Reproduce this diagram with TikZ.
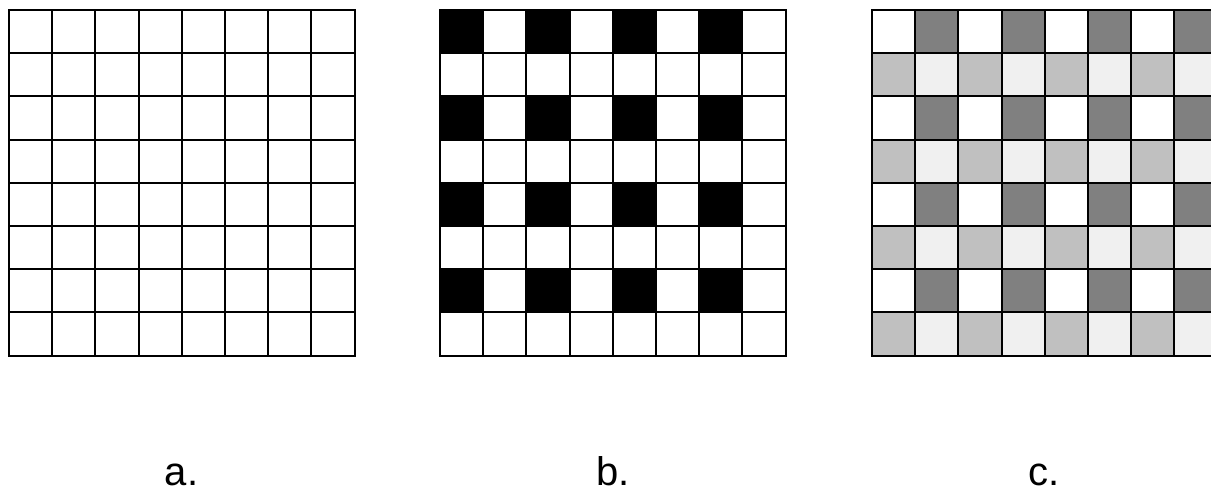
\documentclass[tikz,border=0pt]{standalone}
\usepackage{fontspec}
\setmainfont{Liberation Sans}
\definecolor{darkg}{RGB}{128,128,128}
\definecolor{midg}{RGB}{192,192,192}
\definecolor{lightg}{RGB}{240,240,240}
\begin{document}
\begin{tikzpicture}[x=1pt,y=-1pt,
  gridline/.style={draw=black,line width=2pt,line cap=rect},
  lbl/.style={font=\fontsize{40}{48}\selectfont,anchor=base,inner sep=0pt}]
\useasboundingbox (0,0) rectangle (1211,487);
\def\cs{43.2}
% grid b fills
\foreach \r in {0,2,4,6}{\foreach \c in {0,2,4,6}{
  \fill[black] (440+\c*\cs,10+\r*\cs) rectangle ++(\cs,\cs);}}
% grid c fills
\foreach \r in {0,2,4,6}{\foreach \c in {1,3,5,7}{
  \fill[darkg] (872+\c*\cs,10+\r*\cs) rectangle ++(\cs,\cs);}}
\foreach \r in {1,3,5,7}{\foreach \c in {0,2,4,6}{
  \fill[midg] (872+\c*\cs,10+\r*\cs) rectangle ++(\cs,\cs);}}
\foreach \r in {1,3,5,7}{\foreach \c in {1,3,5,7}{
  \fill[lightg] (872+\c*\cs,10+\r*\cs) rectangle ++(\cs,\cs);}}
% grid lines
\foreach \gx in {9,440,872}{
  \foreach \i in {0,...,8}{
    \draw[gridline] (\gx+\i*\cs,10) -- ++(0,8*\cs);
    \draw[gridline] (\gx,10+\i*\cs) -- ++(8*\cs,0);
  }}
\node[lbl] (la) at (181.5,485) {a.};
\node[lbl] (lb) at (613,485) {b.};
\node[lbl] (lc) at (1044,485) {c.};
\end{tikzpicture}
\end{document}
